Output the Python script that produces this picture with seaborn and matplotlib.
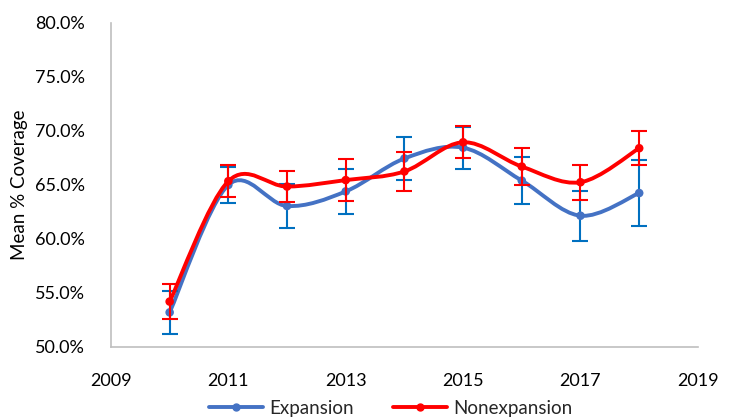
import numpy as np
import pandas as pd
import matplotlib
matplotlib.use("Agg")
import matplotlib.pyplot as plt
from matplotlib.path import Path
from matplotlib.patches import PathPatch
from matplotlib.lines import Line2D
from matplotlib.ticker import PercentFormatter
import seaborn as sns

# Mean coverage (%) by year with error margins
years = [2010, 2011, 2012, 2013, 2014, 2015, 2016, 2017, 2018]
expansion = [53.2, 65.0, 63.05, 64.4, 67.45, 68.45, 65.4, 62.15, 64.25]
expansion_err = [2.0, 1.7, 2.05, 2.1, 2.0, 1.95, 2.15, 2.3, 3.05]
nonexpansion = [54.2, 65.35, 64.85, 65.45, 66.25, 68.95, 66.7, 65.25, 68.4]
nonexpansion_err = [1.6, 1.5, 1.45, 1.95, 1.8, 1.5, 1.75, 1.6, 1.6]

series_names = ["Expansion", "Nonexpansion"]
x_ticks = [2009, 2011, 2013, 2015, 2017, 2019]
y_ticks = [50, 55, 60, 65, 70, 75, 80]

df = pd.concat([
    pd.DataFrame({"Year": years, "Coverage": expansion, "Err": expansion_err, "Group": series_names[0]}),
    pd.DataFrame({"Year": years, "Coverage": nonexpansion, "Err": nonexpansion_err, "Group": series_names[1]}),
], ignore_index=True)

sns.set_theme(style="white")
plt.rcParams["font.family"] = ["Lato", "DejaVu Sans"]

line_colors = {"Expansion": "#4472C4", "Nonexpansion": "#FF0000"}
err_colors = {"Expansion": "#0070C0", "Nonexpansion": "#FF0000"}

fig = plt.figure(figsize=(7.3, 4.17), dpi=100)
ax = fig.add_axes([0.152, 0.168, 0.804, 0.777])


def smooth_path(xs, ys):
    """Cubic Bezier path through the points (Catmull-Rom style tangents)."""
    pts = np.column_stack([xs, ys]).astype(float)
    n = len(pts)
    verts = [pts[0]]
    codes = [Path.MOVETO]
    for i in range(n - 1):
        p_prev = pts[i - 1] if i > 0 else pts[i]
        p_next2 = pts[i + 2] if i + 2 < n else pts[i + 1]
        c1 = pts[i] + (pts[i + 1] - p_prev) / 6.0
        c2 = pts[i + 1] - (p_next2 - pts[i]) / 6.0
        verts += [c1, c2, pts[i + 1]]
        codes += [Path.CURVE4] * 3
    return Path(verts, codes)


z = 2
for name in series_names:
    sub = df[df["Group"] == name]
    ax.add_patch(PathPatch(smooth_path(sub["Year"], sub["Coverage"]), facecolor="none",
                           edgecolor=line_colors[name], lw=2.8, zorder=z,
                           capstyle="round", joinstyle="round"))
    ax.errorbar(sub["Year"], sub["Coverage"], yerr=sub["Err"], fmt="none",
                ecolor=err_colors[name], elinewidth=1.5, capsize=5.5, capthick=1.5, zorder=z + 0.5)
    sns.scatterplot(data=sub, x="Year", y="Coverage", color=line_colors[name], s=38,
                    edgecolor="none", ax=ax, zorder=z + 0.6, legend=False)
    z += 1

ax.set_xlim(2009, 2019)
ax.set_ylim(50, 80)
ax.set_xticks(x_ticks)
ax.set_yticks(y_ticks)
ax.yaxis.set_major_formatter(PercentFormatter(decimals=1))
ax.tick_params(axis="both", length=0, labelsize=13, colors="#000000")
ax.tick_params(axis="x", pad=19)
ax.tick_params(axis="y", pad=19)
ax.set_xlabel("")
ax.set_ylabel("Mean % Coverage", fontsize=13.5, color="#000000", labelpad=5)

for side in ["top", "right"]:
    ax.spines[side].set_visible(False)
for side in ["left", "bottom"]:
    ax.spines[side].set_color("#BFBFBF")
    ax.spines[side].set_linewidth(1.2)

handles = [Line2D([0], [0], color=line_colors[n], lw=2.8, marker="o", markersize=5) for n in series_names]
fig.legend(handles, series_names, loc="lower center", bbox_to_anchor=(0.535, -0.04), ncol=2,
           frameon=False, fontsize=13.5, handlelength=2.9, columnspacing=2.1, handletextpad=0.3)

fig.savefig("out.png", dpi=100)
